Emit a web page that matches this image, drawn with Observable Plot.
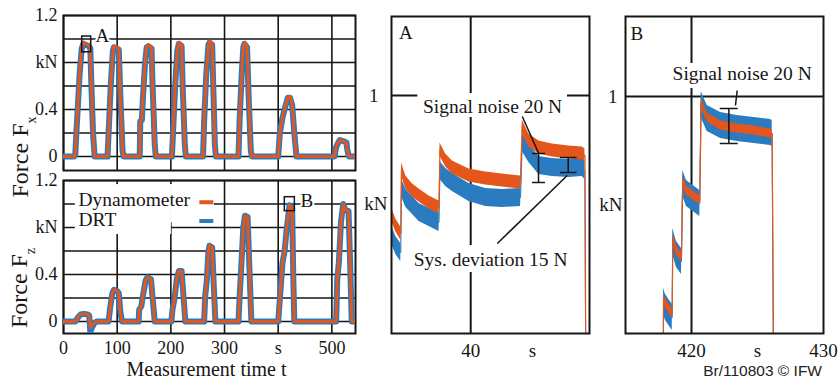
<!DOCTYPE html>
<html><head><meta charset="utf-8">
<script src="https://cdn.jsdelivr.net/npm/d3@7"></script>
<script src="https://cdn.jsdelivr.net/npm/@observablehq/plot@0.6"></script>
<style>
body{margin:0;background:#fff;}
#root{position:relative;width:838px;height:380px;overflow:hidden;background:#fff;}
.panel{position:absolute;}
#caption{position:absolute;right:16px;top:362px;font:15.5px "Liberation Sans",Arial,sans-serif;color:#222;white-space:nowrap;}
</style></head><body><div id="root"><div id="caption">Br/110803 © IFW</div></div>
<script>
// ---------- data ----------
const seriesNames = ["Dynamometer", "DRT"];

// Overview Fx (kN) vs time (s)
const fxTime = [0,20,22,24,27,30,34,37,42,47,50,52,55,58, 82,84,88,92,94,99,103,106,110,112, 142,143,146,148,152,155,158,164,166,170,172, 202,204,208,212,215,220,222,226,228, 260,262,266,270,272,277,279,282,284, 326,328,332,335,337,342,345,349,351, 400,403,408,413,418,422,426,430,434, 505,508,512,515,522,527,529,532,545];
const fxDyn  = [0,0,0.02,0.2,0.45,0.7,0.93,0.97,0.96,0.95,0.93,0.6,0.2,0, 0,0.2,0.6,0.9,0.94,0.93,0.92,0.5,0.05,0, 0,0.3,0.32,0.5,0.8,0.94,0.95,0.93,0.6,0.1,0, 0,0.2,0.6,0.9,0.97,0.95,0.6,0.1,0, 0,0.3,0.7,0.95,0.98,0.96,0.6,0.1,0, 0,0.3,0.7,0.94,0.97,0.94,0.5,0.05,0, 0,0.2,0.33,0.42,0.5,0.51,0.45,0.2,0, 0,0.08,0.12,0.14,0.13,0.12,0.05,0,0];
const fxDrt  = [0,0,0.02,0.2,0.45,0.7,0.92,0.96,0.95,0.94,0.92,0.6,0.2,0, 0,0.2,0.6,0.9,0.93,0.92,0.91,0.5,0.05,0, 0,0.3,0.31,0.5,0.8,0.93,0.94,0.92,0.6,0.1,0, 0,0.2,0.6,0.9,0.96,0.94,0.6,0.1,0, 0,0.3,0.7,0.95,0.97,0.95,0.6,0.1,0, 0,0.3,0.7,0.93,0.96,0.93,0.5,0.05,0, 0,0.2,0.33,0.42,0.5,0.5,0.44,0.2,0, 0,0.08,0.12,0.14,0.13,0.12,0.05,0,0];

// Overview Fz (kN) vs time (s)
const fzTime = [0,22,28,32,38,45,48,50,53,58,62, 84,87,91,94,100,103,106,109, 140,141,145,148,153,156,163,166,170, 201,203,207,211,215,220,223,227, 262,264,267,270,272,277,280,283, 326,328,331,335,338,343,346,350, 400,404,408,412,416,419,421,426,428,430, 508,510,513,517,521,525,531,534,537,545];
const fzDyn  = [0,0,0.04,0.06,0.065,0.06,0.05,-0.05,-0.03,-0.01,0, 0,0.12,0.24,0.27,0.26,0.24,0.08,0, 0,0.1,0.13,0.22,0.35,0.375,0.36,0.2,0, 0,0.1,0.2,0.36,0.43,0.43,0.25,0, 0,0.22,0.35,0.6,0.645,0.63,0.3,0, 0,0.2,0.45,0.8,0.9,0.89,0.5,0, 0,0.25,0.5,0.6,0.8,0.9,0.99,0.965,0.4,0, 0,0.36,0.5,0.85,1.0,0.95,0.94,0.5,0,0];
const fzDrt  = [0,0,0.04,0.06,0.065,0.06,0.05,-0.09,-0.05,-0.01,0, 0,0.12,0.24,0.27,0.26,0.24,0.08,0, 0,0.1,0.13,0.22,0.35,0.375,0.36,0.2,0, 0,0.1,0.2,0.36,0.43,0.43,0.25,0, 0,0.22,0.35,0.6,0.645,0.63,0.3,0, 0,0.2,0.45,0.8,0.9,0.89,0.5,0, 0,0.25,0.5,0.6,0.8,0.9,0.99,0.965,0.4,0, 0,0.36,0.5,0.85,1.0,0.95,0.94,0.5,0,0];

// Detail A (Fx, kN) vs time (s)
const aTime = [33.63,33.95,34.35,34.41,34.76,35.30,35.83,36.64,37.44,37.52,37.98,38.52,39.86,41.21,42.56,44.03,44.17,44.70,45.51,46.59,47.93,49.01,49.23,49.31];
const aDyn  = [0.880,0.870,0.862,0.926,0.913,0.905,0.900,0.893,0.888,0.946,0.935,0.928,0.920,0.917,0.915,0.913,0.969,0.955,0.948,0.945,0.943,0.942,0.940,0.700];
const aDrt  = [0.860,0.850,0.843,0.908,0.897,0.890,0.883,0.878,0.873,0.925,0.918,0.913,0.903,0.898,0.897,0.898,0.953,0.942,0.930,0.928,0.927,0.928,0.925,0.700];

// Detail B (Fz, kN) vs time (s)
const bTime = [417.86,417.88,418.03,418.54,418.58,418.86,419.24,419.34,419.62,420.63,420.73,421.19,422.20,423.46,424.72,425.98,426.11,426.23];
const bDyn  = [0.700,0.798,0.793,0.783,0.858,0.846,0.839,0.916,0.906,0.896,0.994,0.979,0.971,0.968,0.966,0.963,0.963,0.700];
const bDrt  = [0.700,0.795,0.789,0.779,0.855,0.842,0.835,0.913,0.903,0.893,0.992,0.978,0.971,0.968,0.966,0.964,0.963,0.700];

// ticks / labels
const forceGrid = [0,0.2,0.4,0.6,0.8,1.0,1.2];
const timeGrid = [0,100,200,300,400,500];
const forceTicks = [0,0.4,0.8,1.2];
const forceTickLabels = ["0","0.4","kN","1.2"];
const timeTicks = [0,100,200,300,400,500];
const timeTickLabels = ["0","100","200","300","s","500"];
const aTicks = [40,45];
const aTickLabels = ["40","s"];
const bTicks = [420,425,430];
const bTickLabels = ["420","s","430"];
const detailYTicks = [1, 0.892];
const detailYTickLabels = ["1","kN"];

// annotations
const boxA = {x1:34.8, x2:51.6, y1:0.887, y2:1.021};
const boxB = {x1:412.3, x2:431, y1:0.939, y2:1.058};
const aNotes = [{t:41.77, v:0.989, text:"Signal noise 20 N"}, {t:41.61, v:0.836, text:"Sys. deviation 15 N"}];
const bNotes = [{t:423.84, v:1.0225, text:"Signal noise 20 N"}];
const aBg = [{x1:35.73, x2:47.82, y1:0.978, y2:1.002}, {x1:35.16, x2:48.06, y1:0.823, y2:0.850}];
const bBg = [{x1:418.26, x2:429.4, y1:1.008, y2:1.033}];
const aSegs = [
  [45.48,0.913,45.48,0.942],[44.96,0.942,46.0,0.942],[44.96,0.913,46.0,0.913],
  [47.88,0.923,47.88,0.938],[47.21,0.938,48.55,0.938],[47.21,0.923,48.55,0.923],
  [44.17,0.979,45.5,0.942],[47.80,0.920,42.15,0.852]
];
const bSegs = [
  [422.83,0.953,422.83,0.988],[422.14,0.988,423.5,0.988],[422.14,0.953,423.5,0.953],
  [423.46,1.006,423.33,0.991]
];

// ---------- style ----------
const orange = "#e4561c", blue = "#2a7bbf", ink = "#161616";
const serif = "'Liberation Serif','Times New Roman',serif";
const baseStyle = {fontFamily: serif, background: "transparent", overflow: "visible", color: ink};

const rows = (ts, d1, d2) => ts.map((t, i) => ({t, dyn: d1[i], drt: d2[i]}));
const fxRows = rows(fxTime, fxDyn, fxDrt);
const fzRows = rows(fzTime, fzDyn, fzDrt);
const aRows = rows(aTime, aDyn, aDrt);
const bRows = rows(bTime, bDyn, bDrt);

const root = document.getElementById("root");
function place(node, left, top) {
  const d = document.createElement("div");
  d.className = "panel"; d.style.left = left + "px"; d.style.top = top + "px";
  d.appendChild(node); root.appendChild(d);
  return node;
}

function overview({data, height, marginTop, marginBottom, yDomain, extra, xAxis}) {
  return Plot.plot({
    width: 370, height, marginLeft: 63, marginRight: 15, marginTop, marginBottom,
    x: {domain: [0, 544], axis: null}, y: {domain: yDomain, axis: null},
    style: baseStyle,
    marks: [
      Plot.ruleY(forceGrid, {stroke: ink, strokeWidth: 1.6}),
      Plot.ruleX(timeGrid, {stroke: ink, strokeWidth: 1.6}),
      ...(extra.bg || []),
      Plot.frame({stroke: ink, strokeWidth: 2}),
      Plot.line(data, {x: "t", y: "drt", stroke: blue, strokeWidth: 6, clip: true}),
      Plot.line(data, {x: "t", y: "dyn", stroke: orange, strokeWidth: 3, clip: true}),
      ...(extra.fg || []),
      Plot.text(forceTicks, {y: d => d, text: (d, i) => forceTickLabels[i], frameAnchor: "left", dx: -6, textAnchor: "end", lineAnchor: "middle", fontSize: 18, fill: ink}),
      ...(xAxis ? [
        Plot.text(timeTicks, {x: d => d, text: (d, i) => timeTickLabels[i], frameAnchor: "bottom", dy: 15, lineAnchor: "middle", fontSize: 18, fill: ink}),
        Plot.text(["Measurement time t"], {frameAnchor: "bottom", dx: -3, dy: 36, lineAnchor: "middle", fontSize: 20, fill: ink})
      ] : [])
    ]
  });
}

const tl = place(overview({
  data: fxRows, height: 175, marginTop: 15, marginBottom: 5, yDomain: [-0.119, 1.2], xAxis: false,
  extra: {fg: [
    Plot.rect([boxA], {x1: "x1", x2: "x2", y1: "y1", y2: "y2", fill: "none", stroke: ink, strokeWidth: 1.5}),
    Plot.text(["A"], {x: 59.6, y: 1.03, textAnchor: "start", fontSize: 19, fill: ink, stroke: "white", strokeWidth: 4, paintOrder: "stroke"})
  ]}
}), 0, 0);

const bl = place(overview({
  data: fzRows, height: 205, marginTop: 5, marginBottom: 47, yDomain: [-0.102, 1.2], xAxis: true,
  extra: {
    bg: [
      Plot.rect([{x1: 22, x2: 201, y1: 0.74, y2: 1.165}, {x1: 200, x2: 281, y1: 0.84, y2: 1.165}], {x1: "x1", x2: "x2", y1: "y1", y2: "y2", fill: "white"})
    ],
    fg: [
      Plot.rect([boxB], {x1: "x1", x2: "x2", y1: "y1", y2: "y2", fill: "none", stroke: ink, strokeWidth: 1.5}),
      Plot.text(["B"], {x: 441.6, y: 1.03, textAnchor: "start", fontSize: 19, fill: ink, stroke: "white", strokeWidth: 4, paintOrder: "stroke"}),
      Plot.text(seriesNames, {x: 28, y: [1.038, 0.865], textAnchor: "start", fontSize: 19.5, fill: ink}),
      Plot.ruleY([1.015], {x1: 254, x2: 280, stroke: orange, strokeWidth: 4}),
      Plot.ruleY([0.855], {x1: 254, x2: 280, stroke: blue, strokeWidth: 4})
    ]
  }
}), 0, 175);

function detail({data, xDomain, yDomain, width, marginLeft, marginRight, gridX, bandDyn, bandDrt, bg, notes, segs, ticks, tickLabels, label, labelX, yLabelDx}) {
  return Plot.plot({
    width, height: 380, marginLeft, marginRight, marginTop: 16, marginBottom: 47,
    x: {domain: xDomain, axis: null}, y: {domain: yDomain, axis: null},
    style: baseStyle,
    marks: [
      Plot.ruleX(gridX, {stroke: ink, strokeWidth: 2}),
      Plot.ruleY([1], {stroke: ink, strokeWidth: 2}),
      Plot.rect(bg, {x1: "x1", x2: "x2", y1: "y1", y2: "y2", fill: "white"}),
      Plot.areaY(data, {x: "t", y1: d => d.drt - bandDrt, y2: d => d.drt + bandDrt, fill: blue, clip: true}),
      Plot.line(data, {x: "t", y: "drt", stroke: blue, strokeWidth: 1, clip: true}),
      Plot.areaY(data, {x: "t", y1: d => d.dyn - bandDyn, y2: d => d.dyn + bandDyn, fill: orange, clip: true}),
      Plot.line(data, {x: "t", y: "dyn", stroke: orange, strokeWidth: 1.2, clip: true}),
      Plot.frame({stroke: ink, strokeWidth: 2}),
      Plot.link(segs, {x1: d => d[0], y1: d => d[1], x2: d => d[2], y2: d => d[3], stroke: ink, strokeWidth: 1.5}),
      Plot.text(notes, {x: "t", y: "v", text: "text", fontSize: 19.5, fill: ink}),
      Plot.text([label], {x: labelX, y: 1.063, textAnchor: "start", fontSize: 19, fill: ink}),
      Plot.text(ticks, {x: d => d, text: (d, i) => tickLabels[i], frameAnchor: "bottom", dy: 17, lineAnchor: "middle", fontSize: 19, fill: ink}),
      Plot.text([detailYTicks[0]], {y: d => d, text: [detailYTickLabels[0]], frameAnchor: "left", dx: yLabelDx[0], textAnchor: "end", lineAnchor: "middle", fontSize: 19, fill: ink}),
      Plot.text([detailYTicks[1]], {y: d => d, text: [detailYTickLabels[1]], frameAnchor: "left", dx: yLabelDx[1], textAnchor: "end", lineAnchor: "middle", fontSize: 19, fill: ink})
    ]
  });
}

place(detail({
  data: aRows, xDomain: [33.6, 49.6], yDomain: [0.762, 1.079], width: 245, marginLeft: 36, marginRight: 11,
  gridX: [40], bandDyn: 0.0065, bandDrt: 0.009, bg: aBg, notes: aNotes, segs: aSegs,
  ticks: aTicks, tickLabels: aTickLabels, label: "A", labelX: 34.2, yLabelDx: [-13, -4]
}), 355, 0);

place(detail({
  data: bRows, xDomain: [415, 430], yDomain: [0.763, 1.080], width: 238, marginLeft: 25, marginRight: 15,
  gridX: [420], bandDyn: 0.0045, bandDrt: 0.013, bg: bBg, notes: bNotes, segs: bSegs,
  ticks: bTicks, tickLabels: bTickLabels, label: "B", labelX: 415.38, yLabelDx: [-8, -3]
}), 600, 0);

// rotated y-axis titles with subscripts
function yTitle(svg, x, y, sub) {
  const t = d3.select(svg).append("text")
    .attr("transform", `translate(${x},${y}) rotate(-90)`)
    .attr("font-family", serif).attr("font-size", 24).attr("fill", ink);
  t.append("tspan").text("Force F");
  t.append("tspan").attr("baseline-shift", "sub").attr("font-size", 14).text(sub);
}
yTitle(tl, 28, 157, "x");
yTitle(bl, 27, 113, "z");
</script></body></html>
